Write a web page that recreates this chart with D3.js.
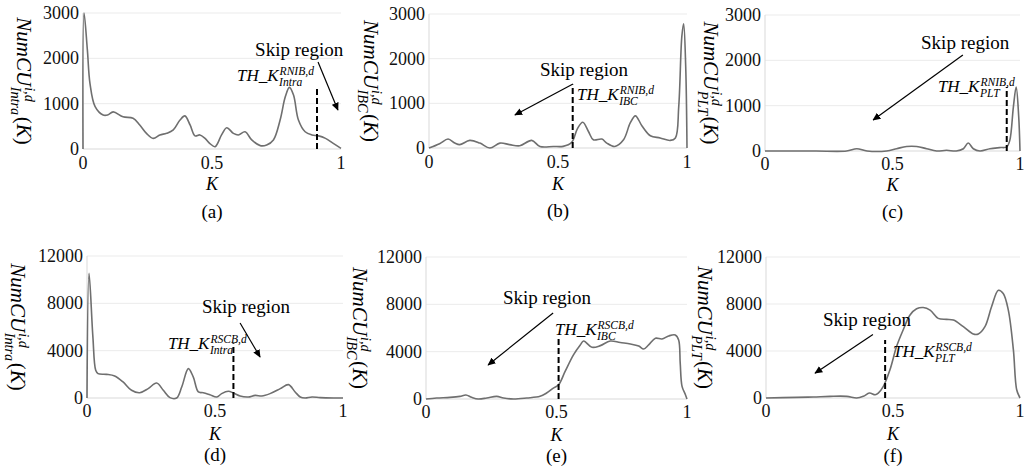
<!DOCTYPE html>
<html><head><meta charset="utf-8">
<script src="https://cdn.jsdelivr.net/npm/d3@7"></script>
<style>
body{margin:0;background:#fff}
</style>
</head><body><svg id="c" width="1026" height="475"></svg>
<script>
// ---------- data ----------
const xTicks = [0, 0.5, 1];
const yTicksTop = [0, 1000, 2000, 3000];
const yTicksBottom = [0, 4000, 8000, 12000];

const kA = [0, 0.004, 0.017, 0.027, 0.047, 0.078, 0.095, 0.117, 0.155, 0.194, 0.22, 0.246, 0.272, 0.298, 0.324, 0.35, 0.376, 0.395, 0.415, 0.434, 0.453, 0.473, 0.492, 0.512, 0.537, 0.557, 0.583, 0.602, 0.628, 0.654, 0.687, 0.712, 0.738, 0.764, 0.784, 0.8, 0.816, 0.835, 0.861, 0.887, 0.913, 0.94, 0.97, 1.0];
const vA = [0, 3000, 2180, 1450, 935, 750, 750, 820, 710, 680, 530, 345, 235, 310, 345, 420, 640, 730, 530, 290, 310, 235, 120, 50, 310, 470, 345, 310, 380, 200, 75, 90, 200, 640, 1150, 1360, 1190, 640, 380, 310, 290, 235, 125, 15];

const kB = [0, 0.041, 0.074, 0.1, 0.119, 0.158, 0.197, 0.236, 0.275, 0.313, 0.352, 0.398, 0.43, 0.482, 0.52, 0.553, 0.575, 0.596, 0.618, 0.637, 0.67, 0.689, 0.72, 0.754, 0.78, 0.8, 0.825, 0.858, 0.896, 0.935, 0.955, 0.968, 0.98, 0.987, 0.995, 1.0];
const vB = [0, 97, 200, 110, 75, 170, 110, 0, 110, 75, 50, 170, 35, 35, 37, 125, 430, 575, 370, 185, 200, 110, 35, 185, 560, 720, 500, 275, 225, 170, 225, 930, 2500, 2780, 1820, 0];

const kC = [0, 0.1, 0.2, 0.32, 0.36, 0.4, 0.477, 0.516, 0.555, 0.595, 0.634, 0.673, 0.712, 0.75, 0.778, 0.797, 0.817, 0.843, 0.882, 0.92, 0.948, 0.96, 0.974, 0.985, 0.995, 1.0];
const vC = [0, 0, 0, 0, 50, 0, 0, 50, 100, 100, 50, 0, 15, 0, 50, 175, 50, 0, 50, 75, 90, 235, 970, 1410, 750, 0];

const kD = [0, 0.008, 0.023, 0.034, 0.043, 0.076, 0.108, 0.141, 0.174, 0.206, 0.239, 0.272, 0.298, 0.324, 0.35, 0.37, 0.396, 0.415, 0.435, 0.454, 0.48, 0.507, 0.526, 0.552, 0.572, 0.598, 0.63, 0.657, 0.683, 0.715, 0.755, 0.787, 0.813, 0.833, 0.852, 0.879, 0.911, 0.963, 1.0];
const vD = [0, 10530, 5170, 2340, 2060, 2000, 1860, 1355, 650, 450, 790, 1270, 650, 30, 0, 930, 2480, 1780, 510, 450, 280, 85, 370, 565, 425, 170, 85, 225, 170, 370, 790, 1130, 510, 85, 0, 85, 30, 0, 0];

const kE = [0, 0.041, 0.092, 0.13, 0.153, 0.175, 0.2, 0.233, 0.271, 0.297, 0.335, 0.386, 0.437, 0.462, 0.488, 0.508, 0.533, 0.565, 0.591, 0.604, 0.636, 0.668, 0.706, 0.744, 0.783, 0.815, 0.834, 0.853, 0.879, 0.904, 0.93, 0.955, 0.968, 0.974, 0.981, 0.994, 1.0];
const vE = [0, 85, 140, 225, 335, 140, 0, 85, 225, 85, 0, 85, 225, 505, 925, 1205, 2330, 3730, 4570, 4900, 4370, 4510, 4900, 4770, 4650, 4480, 4230, 4570, 5130, 5070, 5330, 5410, 4990, 3030, 1070, 365, 0];

const kF = [0, 0.12, 0.186, 0.252, 0.318, 0.357, 0.383, 0.407, 0.43, 0.442, 0.462, 0.488, 0.514, 0.54, 0.567, 0.593, 0.619, 0.646, 0.678, 0.711, 0.738, 0.777, 0.816, 0.836, 0.862, 0.888, 0.915, 0.934, 0.954, 0.974, 0.987, 1.0];
const vF = [0, 55, 85, 140, 140, 0, 140, 420, 280, 420, 990, 2400, 4375, 5790, 7060, 7590, 7700, 7480, 6775, 6690, 6630, 6070, 5450, 5450, 6070, 7760, 9170, 8890, 7480, 4090, 700, 0];

// threshold (dashed line) K and height
const thK = [0.907, 0.557, 0.948, 0.572, 0.508, 0.469];
const thTop = [1340, 1415, 1410, 4630, 5260, 4940];
const captions = ['(a)', '(b)', '(c)', '(d)', '(e)', '(f)'];
const modeSub = ['Intra', 'IBC', 'PLT', 'Intra', 'IBC', 'PLT'];
const thSup = ['RNIB,d', 'RNIB,d', 'RNIB,d', 'RSCB,d', 'RSCB,d', 'RSCB,d'];

// ---------- layout ----------
const layout = [
  {l:83, r:341, t:13, b:149, yMax:3000, ticks:yTicksTop, tickY:169, kY:190, capY:218, labX:17, skip:[0.667,2050], arr:[[0.911,1920],[0.988,860]], th:[0.597,1500]},
  {l:429, r:687, t:14, b:148, yMax:3000, ticks:yTicksTop, tickY:168, kY:190, capY:217, labX:364, skip:[0.43,1612], arr:[[0.558,1433],[0.333,739]], th:[0.574,1075]},
  {l:765, r:1020, t:15, b:151, yMax:3000, ticks:yTicksTop, tickY:170, kY:191, capY:218, labX:704, skip:[0.612,2250], arr:[[0.776,2118],[0.424,684]], th:[0.678,1300]},
  {l:87, r:343, t:256, b:398, yMax:12000, ticks:yTicksBottom, tickY:417, kY:440, capY:461, labX:11, skip:[0.449,7183], arr:[[0.598,6340],[0.676,3465]], th:[0.316,4140]},
  {l:426, r:687, t:257, b:399, yMax:12000, ticks:yTicksBottom, tickY:418, kY:441, capY:462, labX:353, skip:[0.295,8030], arr:[[0.487,7270],[0.238,2874]], th:[0.494,5410]},
  {l:766, r:1020, t:257, b:398, yMax:12000, ticks:yTicksBottom, tickY:417, kY:440, capY:462, labX:698, skip:[0.224,6170], arr:[[0.421,5410],[0.193,2113]], th:[0.5,3465]}
];
const series = [[kA,vA],[kB,vB],[kC,vC],[kD,vD],[kE,vE],[kF,vF]];

const FONT = "'Liberation Serif', 'Times New Roman', Tinos, 'DejaVu Serif', 'Noto Serif', serif";
const svg = d3.select('#c').style('font-family', FONT);

svg.append('defs').append('marker')
  .attr('id','ah').attr('viewBox','0 0 10 10').attr('refX',9).attr('refY',5)
  .attr('markerWidth',8).attr('markerHeight',8).attr('markerUnits','userSpaceOnUse')
  .attr('orient','auto')
  .append('path').attr('d','M0,0.5 L10,5 L0,9.5 Z').attr('fill','#000');

function T(g) { return g.append('text').style('font-family', FONT); }

// stacked super/subscript math text; returns total width
function mathText(g, x, y, main, sup, sub, tail, size) {
  const t1 = T(g).attr('x', x).attr('y', y)
    .style('font-style','italic').attr('font-size', size).text(main);
  const w1 = t1.node().getComputedTextLength();
  const ss = size * 0.68;
  const ts = T(g).attr('x', x + w1 + 1).attr('y', y - size * 0.38)
    .style('font-style','italic').attr('font-size', ss).text(sup);
  const tb = T(g).attr('x', x + w1 + 0.5).attr('y', y + size * 0.28)
    .style('font-style','italic').attr('font-size', ss).text(sub);
  const ws = Math.max(ts.node().getComputedTextLength(), tb.node().getComputedTextLength());
  let total = w1 + ws + 1;
  if (tail) {
    const tt = T(g).attr('x', x + total + 1).attr('y', y).attr('font-size', size);
    tt.append('tspan').text('(');
    tt.append('tspan').style('font-style','italic').text('K');
    tt.append('tspan').text(')');
    total += 1 + tt.node().getComputedTextLength();
  }
  return total;
}

layout.forEach((L, i) => {
  const [ks, vs] = series[i];
  const x = d3.scaleLinear().domain([0,1]).range([L.l, L.r]);
  const y = d3.scaleLinear().domain([0, L.yMax]).range([L.b, L.t]);
  const g = svg.append('g');

  // gridlines
  g.selectAll('line.grid').data(L.ticks).join('line')
    .attr('x1', L.l).attr('x2', L.r).attr('y1', d => y(d)).attr('y2', d => y(d))
    .attr('stroke', d => d === 0 ? '#d9d9d9' : '#ebebeb').attr('stroke-width', 1);
  g.append('line').attr('x1', L.l).attr('x2', L.l).attr('y1', L.t).attr('y2', L.b)
    .attr('stroke', '#d9d9d9');

  // y tick labels
  g.selectAll('text.yt').data(L.ticks).join('text').style('font-family', FONT)
    .attr('x', L.l - 4).attr('y', d => y(d)).attr('dy', '0.33em')
    .attr('text-anchor', 'end').attr('font-size', 18)
    .attr('fill', '#111').text(d => d);

  // x tick labels
  g.selectAll('text.xt').data(xTicks).join('text').style('font-family', FONT)
    .attr('x', d => x(d)).attr('y', L.tickY)
    .attr('text-anchor', 'middle').attr('font-size', 18)
    .attr('fill', '#111').text(d => d3.format('~g')(d));

  // K label + caption
  T(g).attr('x', x(0.5)).attr('y', L.kY).attr('text-anchor','middle')
    .style('font-style','italic').attr('font-size', 18).text('K');
  T(g).attr('x', x(0.5)).attr('y', L.capY).attr('text-anchor','middle')
    .attr('font-size', 19).text(captions[i]);

  // curve
  const pts = ks.map((k, j) => [k, vs[j]]);
  g.append('path').datum(pts)
    .attr('d', d3.line().x(d => x(d[0])).y(d => y(d[1])).curve(d3.curveCatmullRom.alpha(0.5)))
    .attr('fill','none').attr('stroke','#6f6f6f').attr('stroke-width',1.6);

  // threshold dashed line
  g.append('line').attr('x1', x(thK[i])).attr('x2', x(thK[i]))
    .attr('y1', y(0)).attr('y2', y(thTop[i]))
    .attr('stroke','#000').attr('stroke-width',2).attr('stroke-dasharray','6,3');

  // Skip region text and arrow
  T(g).attr('x', x(L.skip[0])).attr('y', y(L.skip[1]))
    .attr('font-size', 19).text('Skip region');
  g.append('line').attr('x1', x(L.arr[0][0])).attr('y1', y(L.arr[0][1]))
    .attr('x2', x(L.arr[1][0])).attr('y2', y(L.arr[1][1]))
    .attr('stroke','#000').attr('stroke-width',1.2).attr('marker-end','url(#ah)');

  // TH label
  const tg = g.append('g');
  mathText(tg, x(L.th[0]), y(L.th[1]), 'TH_K', thSup[i], modeSub[i], null, 17);

  // rotated y-axis label
  const cy = (L.t + L.b) / 2;
  const outer = g.append('g').attr('transform', `translate(${L.labX},${cy}) rotate(90)`);
  const inner = outer.append('g');
  const w = mathText(inner, 0, 0, 'NumCU', 'i,d', modeSub[i], true, 21);
  inner.attr('transform', `translate(${-w/2},0)`);
});
</script>
</body></html>
